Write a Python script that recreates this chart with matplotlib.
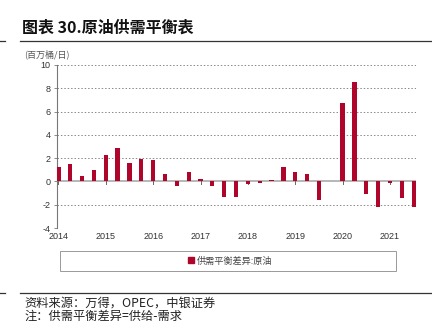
import matplotlib
matplotlib.use("Agg")
import matplotlib.pyplot as plt
from matplotlib.patches import Rectangle
from matplotlib.lines import Line2D
import matplotlib.transforms as mtransforms
import numpy as np

plt.rcParams['font.family'] = ['Noto Sans CJK SC', 'DejaVu Sans']

title = "图表 30.原油供需平衡表"
unit = "(百万桶/日)"
series_name = "供需平衡差异:原油"
source = "资料来源：万得，OPEC，中银证券"
note = "注：供需平衡差异=供给-需求"

years = ["2014", "2015", "2016", "2017", "2018", "2019", "2020", "2021"]
# quarterly values 2014Q1 .. 2021Q3
values = [1.2, 1.5, 0.5, 1.0,
          2.3, 2.9, 1.6, 1.9,
          1.8, 0.6, -0.4, 0.8,
          0.2, -0.4, -1.3, -1.3,
          -0.2, -0.1, 0.15, 1.2,
          0.8, 0.65, -1.6, 0.06,
          6.7, 8.55, -1.1, -2.2,
          -0.1, -1.45, -2.2]
yticks = [-4, -2, 0, 2, 4, 6, 8, 10]

bar_color = "#B0052A"
W, H = 432, 321
fig = plt.figure(figsize=(W / 100, H / 100), dpi=100)

ax = fig.add_axes([57 / W, 1 - 228 / H, (416 - 57) / W, (228 - 65) / H])
x = np.arange(len(values))
ax.bar(x, values, width=0.36, color=bar_color, zorder=3)
ax.set_xlim(-0.12, len(values) - 1 + 0.2)
ax.set_ylim(-4, 10)
ax.set_yticks(yticks)
ax.set_yticklabels([str(v) for v in yticks], fontsize=6.5, color="#333333",
                   family=['Liberation Sans', 'DejaVu Sans'])
for v in yticks:
    if v != 0:
        ax.axhline(v, color="#888888", lw=0.7, ls=(0, (1.5, 2)), zorder=1)
ax.axhline(0, color="#AAAAAA", lw=1.2, zorder=2)

for s in ["top", "right", "bottom"]:
    ax.spines[s].set_visible(False)
ax.spines["left"].set_color("#777777")
ax.spines["left"].set_linewidth(0.8)
ax.tick_params(axis="y", length=2.5, width=0.6, color="#777777", pad=2)

# year ticks on the zero line
ypos = [i * 4 for i in range(len(years))]
ax.set_xticks([])
for xp in ypos:
    ax.plot([xp, xp], [0, -0.22], color="#666666", lw=0.7, zorder=2)
trans = mtransforms.blended_transform_factory(ax.transData, ax.transAxes)
for xp, lab in zip(ypos, years):
    ax.text(xp, -0.025, lab, transform=trans, ha="center", va="top",
            fontsize=6.5, color="#333333", family=['Liberation Sans', 'DejaVu Sans'])

# title & lines
fig.text(22 / W, 1 - 28 / H, title, fontsize=11.5, fontweight="bold",
         ha="left", va="center", color="#111111")
fig.add_artist(Line2D([20 / W, 1], [1 - 41 / H, 1 - 41 / H], color="#333333", lw=0.9))
fig.add_artist(Line2D([0, 5 / W], [1 - 41 / H, 1 - 41 / H], color="#333333", lw=0.9))
fig.text(24 / W, 1 - 54 / H, unit, fontsize=6.5, ha="left", va="center", color="#555555")

# legend box
fig.add_artist(Rectangle((60 / W, 1 - 271 / H), 336 / W, 20 / H, fill=False,
                         edgecolor="#999999", lw=0.7, transform=fig.transFigure))
handle = Rectangle((0, 0), 1, 1, color=bar_color)
ax.legend([handle], [series_name], loc="center", frameon=False,
          bbox_to_anchor=(230 / W, 1 - 261 / H), bbox_transform=fig.transFigure,
          fontsize=6.6, handlelength=0.6, handleheight=0.6, handletextpad=0.3,
          labelcolor="#444444")

# bottom line & source
fig.add_artist(Line2D([20 / W, 1], [1 - 293 / H, 1 - 293 / H], color="#333333", lw=0.9))
fig.add_artist(Line2D([0, 5 / W], [1 - 293 / H, 1 - 293 / H], color="#333333", lw=0.9))
fig.text(24 / W, 1 - 303 / H, source, fontsize=8.8, ha="left", va="center", color="#222222")
fig.text(24 / W, 1 - 316 / H, note, fontsize=8.8, ha="left", va="center", color="#222222")

fig.savefig("out.png", dpi=100)
